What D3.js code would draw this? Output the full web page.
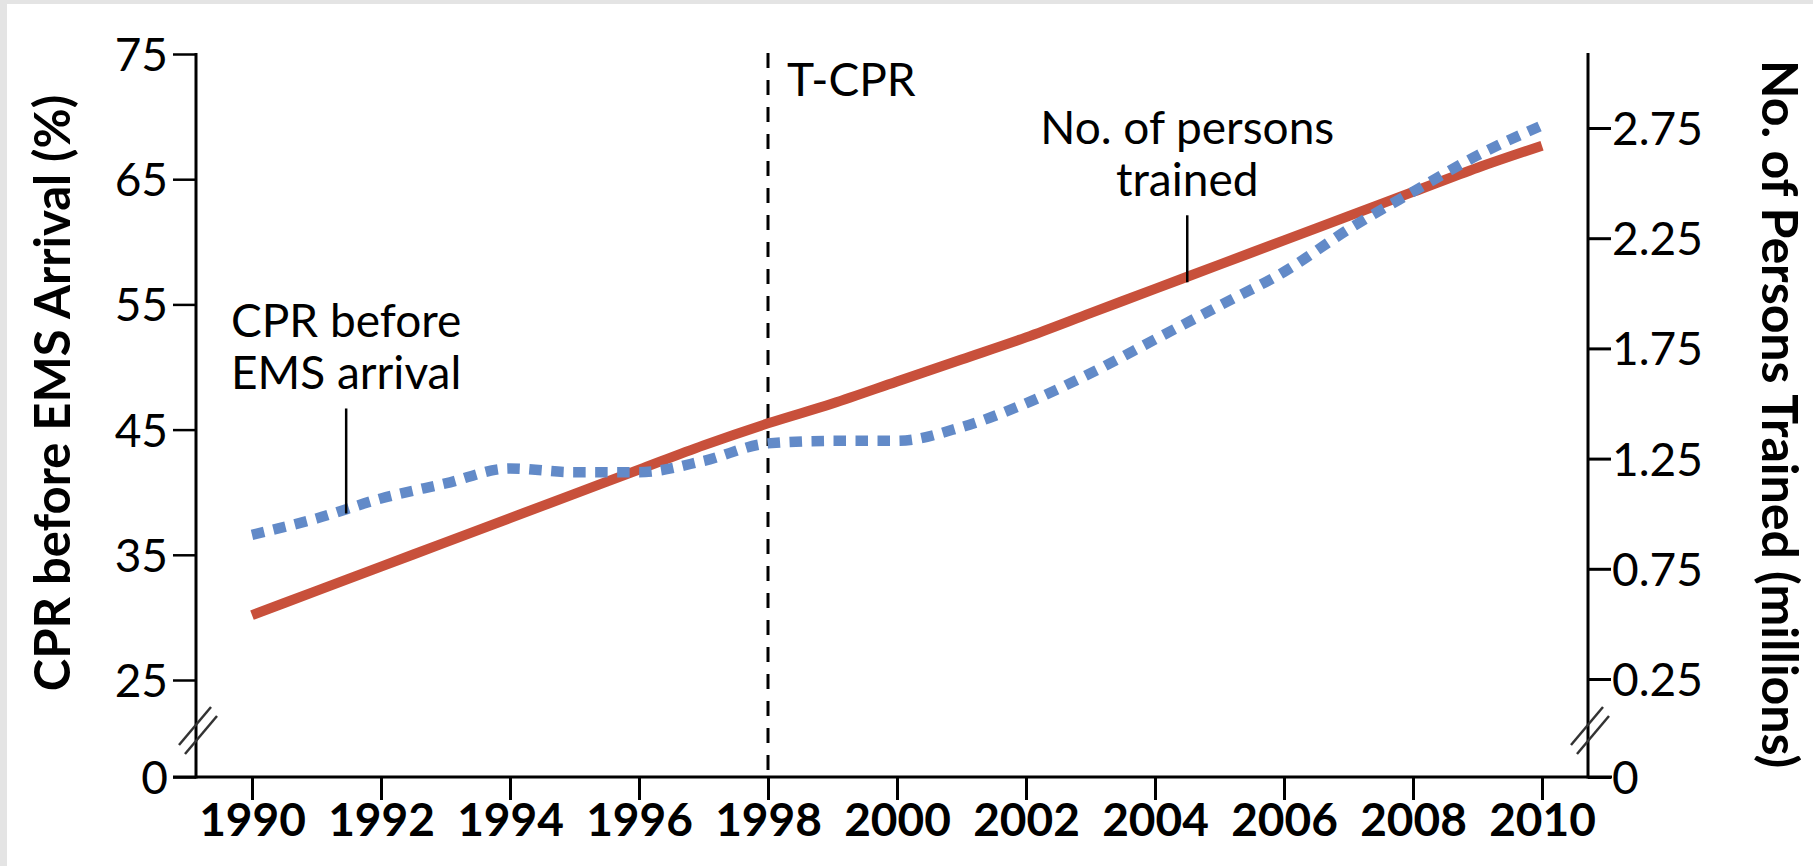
<!DOCTYPE html>
<html>
<head>
<meta charset="utf-8">
<script src="https://cdn.jsdelivr.net/npm/d3@7"></script>
<style>
  body { margin: 0; background: #e4e4e4; }
  svg { display: block; }
</style>
</head>
<body>
<div id="chart"></div>
<script>
// values
const years = [1990, 1991, 1992, 1993, 1994, 1995, 1996, 1997, 1998, 1999, 2000,
  2001, 2002, 2003, 2004, 2005, 2006, 2007, 2008, 2009, 2010];
const cprBeforeEms = [36.6, 37.9, 39.5, 40.7, 41.9, 41.6, 41.6, 42.5, 43.9, 44.1, 44.1,
  45.2, 47.1, 49.5, 52.2, 54.9, 57.6, 61.0, 64.0, 66.9, 69.3];
const personsTrained = [0.54, 0.65, 0.76, 0.87, 0.98, 1.09, 1.20, 1.31, 1.41, 1.50, 1.60,
  1.70, 1.80, 1.91, 2.02, 2.13, 2.24, 2.35, 2.46, 2.57, 2.67];

const xTicks = [1990, 1992, 1994, 1996, 1998, 2000, 2002, 2004, 2006, 2008, 2010];
const leftTicks = [0, 25, 35, 45, 55, 65, 75];
const rightTicks = [0, 0.25, 0.75, 1.25, 1.75, 2.25, 2.75];

const leftTitle = "CPR before EMS Arrival (%)";
const rightTitle = "No. of Persons Trained (millions)";
const markerYear = 1998, markerLabel = "T-CPR";
const cprLabel = ["CPR before", "EMS arrival"];
const trainedLabel = ["No. of persons", "trained"];

const W = 1813, H = 866;
const leftX = 196, rightX = 1588, baseY = 777, topY = 53, tickLen = 23;
const FONT = "Lato, 'Open Sans', sans-serif";
const RED = "#c8503b", BLUE = "#628ac8";

const x = d3.scaleLinear().domain([1990, 2010]).range([252, 1542]);
// broken axes: 0 sits on the baseline, the rest is linear
const yL = d3.scaleLinear().domain([0, 25, 75]).range([baseY, 680, 54]);
const yR = d3.scaleLinear().domain([0, 0.25, 2.75]).range([baseY, 679, 128]);

const svg = d3.select("#chart").append("svg")
  .attr("width", W).attr("height", H)
  .style("font-family", FONT);

svg.append("rect").attr("x", 7).attr("y", 4)
  .attr("width", W - 7).attr("height", H - 4).attr("fill", "#fff");

// left axis
const gL = svg.append("g")
  .attr("transform", `translate(${leftX},0)`)
  .call(d3.axisLeft(yL).tickValues(leftTicks).tickSize(tickLen).tickPadding(5)
    .tickFormat(d3.format("d")));
gL.attr("font-family", FONT).attr("font-size", 46);
gL.select(".domain").remove();
gL.selectAll(".tick line").attr("stroke", "#000").attr("stroke-width", 2.5);
gL.selectAll(".tick text").attr("fill", "#000").attr("dy", "0.36em");

// right axis
const gR = svg.append("g")
  .attr("transform", `translate(${rightX},0)`)
  .call(d3.axisRight(yR).tickValues(rightTicks).tickSize(tickLen).tickPadding(1)
    .tickFormat(d => d === 0 ? "0" : d3.format(".2f")(d)));
gR.attr("font-family", FONT).attr("font-size", 46);
gR.select(".domain").remove();
gR.selectAll(".tick line").attr("stroke", "#000").attr("stroke-width", 3);
gR.selectAll(".tick text").attr("fill", "#000").attr("dy", "0.36em");

// bottom axis
const gX = svg.append("g")
  .attr("transform", `translate(0,${baseY})`)
  .call(d3.axisBottom(x).tickValues(xTicks).tickSize(tickLen).tickPadding(3)
    .tickFormat(d3.format("d")));
gX.attr("font-family", FONT).attr("font-size", 46).attr("font-weight", "bold");
gX.select(".domain").remove();
gX.selectAll(".tick line").attr("stroke", "#000").attr("stroke-width", 3);
gX.selectAll(".tick text").attr("fill", "#000");

// axis lines
const frame = svg.append("g").attr("stroke", "#000").attr("stroke-width", 3);
frame.append("line").attr("x1", leftX).attr("x2", leftX).attr("y1", topY).attr("y2", baseY + 1.5);
frame.append("line").attr("x1", rightX).attr("x2", rightX).attr("y1", topY).attr("y2", baseY + 1.5);
frame.append("line").attr("x1", leftX - tickLen).attr("x2", rightX + tickLen + 1)
  .attr("y1", baseY).attr("y2", baseY);

// break marks
[leftX, rightX].forEach(cx => {
  const cy = 731;
  [[0, 0], [6, 9]].forEach(([dx, dy]) => {
    svg.append("line")
      .attr("x1", cx - 17 + dx).attr("y1", cy + 14 + dy)
      .attr("x2", cx + 15 + dx).attr("y2", cy - 24 + dy)
      .attr("stroke", "#333").attr("stroke-width", 2.5);
  });
});

// T-CPR marker
svg.append("line")
  .attr("x1", x(markerYear)).attr("x2", x(markerYear))
  .attr("y1", topY).attr("y2", baseY)
  .attr("stroke", "#000").attr("stroke-width", 3)
  .attr("stroke-dasharray", "15,12");
svg.append("text")
  .attr("x", x(markerYear) + 19).attr("y", 96)
  .attr("font-size", 46).attr("fill", "#000")
  .text(markerLabel);

// series
const lineL = d3.line()
  .x((d, i) => x(years[i])).y(d => yL(d))
  .curve(d3.curveMonotoneX);
const lineR = d3.line()
  .x((d, i) => x(years[i])).y(d => yR(d))
  .curve(d3.curveMonotoneX);

svg.append("path")
  .attr("d", lineR(personsTrained))
  .attr("fill", "none").attr("stroke", RED).attr("stroke-width", 10);

svg.append("path")
  .attr("d", lineL(cprBeforeEms))
  .attr("fill", "none").attr("stroke", BLUE).attr("stroke-width", 10.5)
  .attr("stroke-dasharray", "12.5,9.5");

// callouts
function callout(lines, cx, bottomY, len) {
  const topLine = bottomY - len;
  svg.append("line")
    .attr("x1", cx).attr("x2", cx).attr("y1", topLine).attr("y2", bottomY)
    .attr("stroke", "#000").attr("stroke-width", 2.5);
  const t = svg.append("text")
    .attr("text-anchor", "middle").attr("font-size", 46).attr("fill", "#000");
  lines.forEach((s, i) => {
    t.append("tspan").attr("x", cx)
      .attr("y", topLine - 19 - (lines.length - 1 - i) * 52)
      .text(s);
  });
}
callout(cprLabel, x(1991.46), yL(38.3), 105);
callout(trainedLabel, x(2004.5), yR(2.05), 67);

// axis titles (alphabetic baseline, placed explicitly)
svg.append("text")
  .attr("transform", `translate(70,${393}) rotate(-90)`)
  .attr("text-anchor", "middle")
  .attr("font-size", 49).attr("font-weight", "bold").attr("fill", "#000")
  .text(leftTitle);
svg.append("text")
  .attr("transform", `translate(1762,${414}) rotate(90)`)
  .attr("text-anchor", "middle")
  .attr("font-size", 50).attr("font-weight", "bold").attr("fill", "#000")
  .text(rightTitle);
</script>
</body>
</html>
